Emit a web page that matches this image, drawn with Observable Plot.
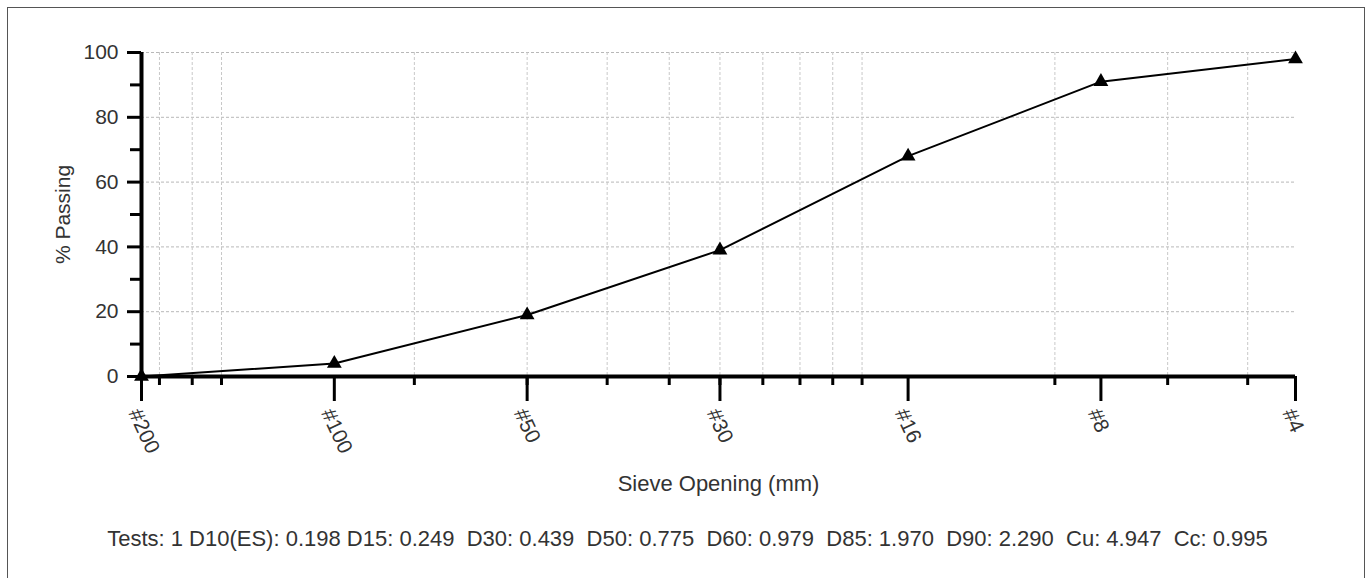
<!DOCTYPE html>
<html>
<head>
<meta charset="utf-8">
<script src="https://cdn.jsdelivr.net/npm/d3@7"></script>
<script src="https://cdn.jsdelivr.net/npm/@observablehq/plot@0.6"></script>
<style>
  body { margin: 0; background: #fff; font-family: "Liberation Sans", Arial, sans-serif; }
  #frame { position: absolute; left: 7px; top: 7px; width: 1358px; height: 640px; border: 1px solid #555; box-sizing: border-box; }
  #chart { position: absolute; left: 0; top: 0; }
  #caption { position: absolute; left: 0; top: 527px; width: 1375px; text-align: center; font-size: 22px; line-height: 24px; color: #333; white-space: pre; }
</style>
</head>
<body>
<div id="frame"></div>
<div id="chart"></div>
<div id="caption"></div>
<script>
// Sieve data
const sieveLabels = ["#200", "#100", "#50", "#30", "#16", "#8", "#4"];
const sieveOpenings = [0.075, 0.15, 0.3, 0.6, 1.18, 2.36, 4.75];
const percentPassing = [0, 4, 19, 39, 68, 91, 98];
const minorOpenings = [0.08, 0.09, 0.1, 0.2, 0.3, 0.4, 0.5, 0.6, 0.7, 0.8, 0.9, 1, 2, 3, 4];
const yMajorTicks = [0, 20, 40, 60, 80, 100];
const yMinorTicks = [10, 30, 50, 70, 90];
const xTitle = "Sieve Opening (mm)";
const yTitle = "% Passing";
const captionText = "Tests: 1 D10(ES): 0.198 D15: 0.249  D30: 0.439  D50: 0.775  D60: 0.979  D85: 1.970  D90: 2.290  Cu: 4.947  Cc: 0.995";

const rows = sieveOpenings.map((d, i) => ({opening: d, pass: percentPassing[i], label: sieveLabels[i]}));

const chart = Plot.plot({
  width: 1371,
  height: 505,
  marginLeft: 141,
  marginRight: 76,
  marginTop: 52,
  marginBottom: 129,
  style: {fontFamily: "'Liberation Sans', Arial, sans-serif", fontSize: "21px", color: "#333", background: "transparent", overflow: "visible"},
  x: {type: "log", domain: [0.075, 4.75]},
  y: {domain: [0, 100]},
  marks: [
    Plot.gridY(yMajorTicks.slice(1), {stroke: "#b8b8b8", strokeOpacity: 1, strokeDasharray: "3,2"}),
    Plot.gridX(minorOpenings, {stroke: "#c8c8c8", strokeOpacity: 1, strokeDasharray: "3,2"}),
    Plot.axisY(yMajorTicks, {tickSize: 14, tickPadding: 9, stroke: "#000", strokeWidth: 3, fill: "#333",
      label: yTitle, labelAnchor: "center", labelArrow: "none", labelOffset: 86}),
    Plot.axisY(yMinorTicks, {tickSize: 11, stroke: "#000", strokeWidth: 3, tickFormat: () => "", label: null}),
    Plot.axisX(minorOpenings, {tickSize: 9, stroke: "#000", strokeWidth: 3, tickFormat: () => "", label: null}),
    Plot.axisX(sieveOpenings, {
      tickSize: 25, tickPadding: 5, stroke: "#000", strokeWidth: 3, fill: "#333",
      tickRotate: 65, textAnchor: "start", lineAnchor: "top",
      tickFormat: d => sieveLabels[sieveOpenings.indexOf(d)], label: null
    }),
    Plot.ruleY([0], {stroke: "#000", strokeWidth: 4}),
    Plot.ruleX([0.075], {stroke: "#000", strokeWidth: 4}),
    Plot.line(rows, {x: "opening", y: "pass", stroke: "#000", strokeWidth: 2}),
    Plot.dot(rows, {x: "opening", y: "pass", symbol: "triangle", fill: "#000", stroke: "none", r: 5.5}),
    Plot.text([xTitle], {frameAnchor: "bottom", dy: 114, fill: "#333", fontSize: 22})
  ]
});
document.getElementById("chart").appendChild(chart);
document.getElementById("caption").textContent = captionText;
</script>
</body>
</html>
